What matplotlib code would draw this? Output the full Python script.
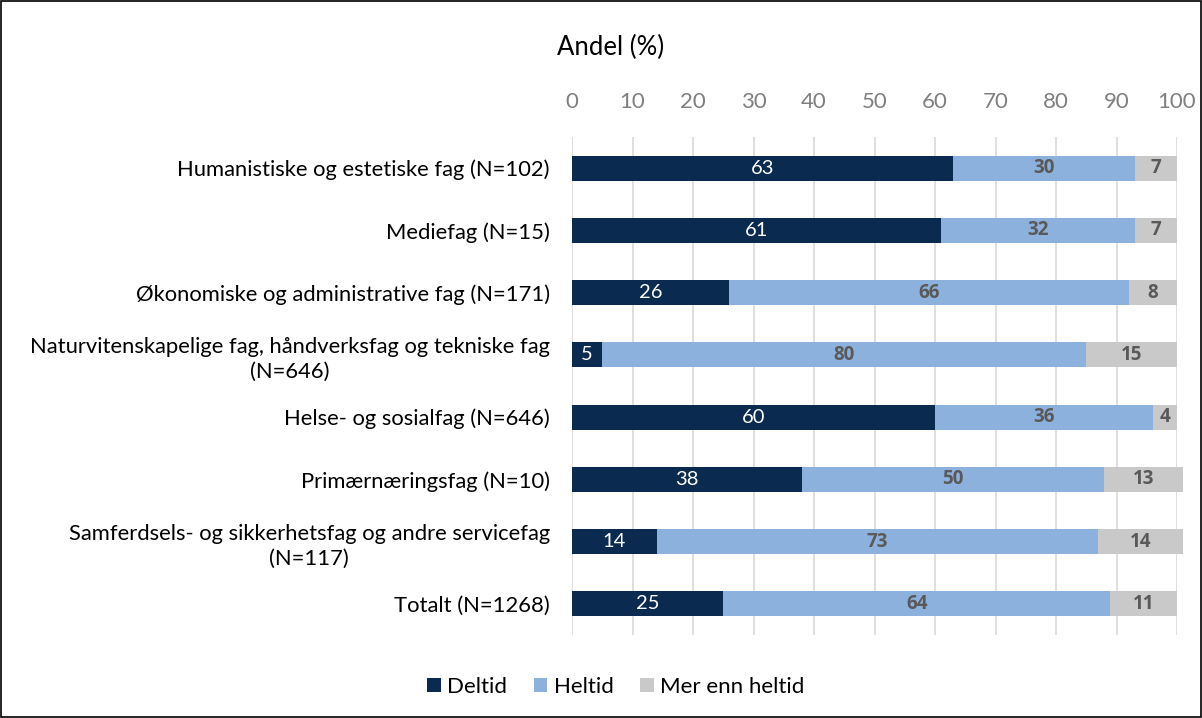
import matplotlib.pyplot as plt
from matplotlib.patches import Rectangle

plt.rcParams['font.family'] = ['Lato', 'DejaVu Sans']

kategorier = [
    'Humanistiske og estetiske fag (N=102)',
    'Mediefag (N=15)',
    'Økonomiske og administrative fag (N=171)',
    'Naturvitenskapelige fag, håndverksfag og tekniske fag\n(N=646)',
    'Helse- og sosialfag (N=646)',
    'Primærnæringsfag (N=10)',
    'Samferdsels- og sikkerhetsfag og andre servicefag\n(N=117)',
    'Totalt (N=1268)',
]
deltid = [63, 61, 26, 5, 60, 38, 14, 25]
heltid = [30, 32, 66, 80, 36, 50, 73, 64]
mer_enn_heltid = [7, 7, 8, 15, 4, 13, 14, 11]
serienavn = ['Deltid', 'Heltid', 'Mer enn heltid']
farger = ['#0B2A4F', '#8DB1DD', '#C9C9C9']

fig = plt.figure(figsize=(12.02, 7.18), dpi=100)
ax = fig.add_axes([572 / 1202, 83 / 718, 605 / 1202, 498 / 718])

y = list(range(len(kategorier)))
venstre = [0] * len(kategorier)
for serie, navn, farge in zip([deltid, heltid, mer_enn_heltid], serienavn, farger):
    bars = ax.barh(y, serie, left=venstre, height=0.4, color=farge, label=navn,
                   zorder=3, clip_on=False)
    for b, v in zip(bars, serie):
        cx = b.get_x() + b.get_width() / 2
        cy = b.get_y() + b.get_height() / 2
        if navn == 'Deltid':
            ax.text(cx, cy, str(v), ha='center', va='center', color='white',
                    fontsize=14.5, zorder=4)
        else:
            # fet skrift -> Open Sans (har bold)
            ax.text(cx, cy, str(v), ha='center', va='center', color='#595959',
                    fontsize=13.5, fontweight='bold', family=['Open Sans', 'DejaVu Sans'],
                    zorder=4)
    venstre = [a + b for a, b in zip(venstre, serie)]

ax.set_xlim(0, 100)
ax.set_ylim(len(kategorier) - 0.5, -0.5)
ax.set_xticks(range(0, 101, 10))
ax.xaxis.tick_top()
ax.tick_params(axis='x', length=0, pad=18, labelsize=16, labelcolor='#7F7F7F')
ax.set_yticks(y)
ax.set_yticklabels(kategorier, fontsize=15.8, multialignment='center', linespacing=1.3)
ax.tick_params(axis='y', length=0, pad=16)
ax.grid(axis='x', color='#D9D9D9', linewidth=1.2, zorder=0)
for s in ax.spines.values():
    s.set_visible(False)

fig.text(557 / 1202, 1 - 47 / 718, 'Andel (%)', fontsize=18.5, ha='left', va='center')

fig.legend(loc='center', bbox_to_anchor=(616 / 1202, 1 - 687 / 718), ncol=3,
           frameon=False, fontsize=16, handlelength=0.6, handleheight=0.6,
           handletextpad=0.3, columnspacing=1.2)

fig.patches.append(Rectangle((0.0005, 0.0008), 0.999, 0.998, transform=fig.transFigure,
                             fill=False, edgecolor='black', linewidth=1.2))

fig.savefig('out.png', dpi=100)
